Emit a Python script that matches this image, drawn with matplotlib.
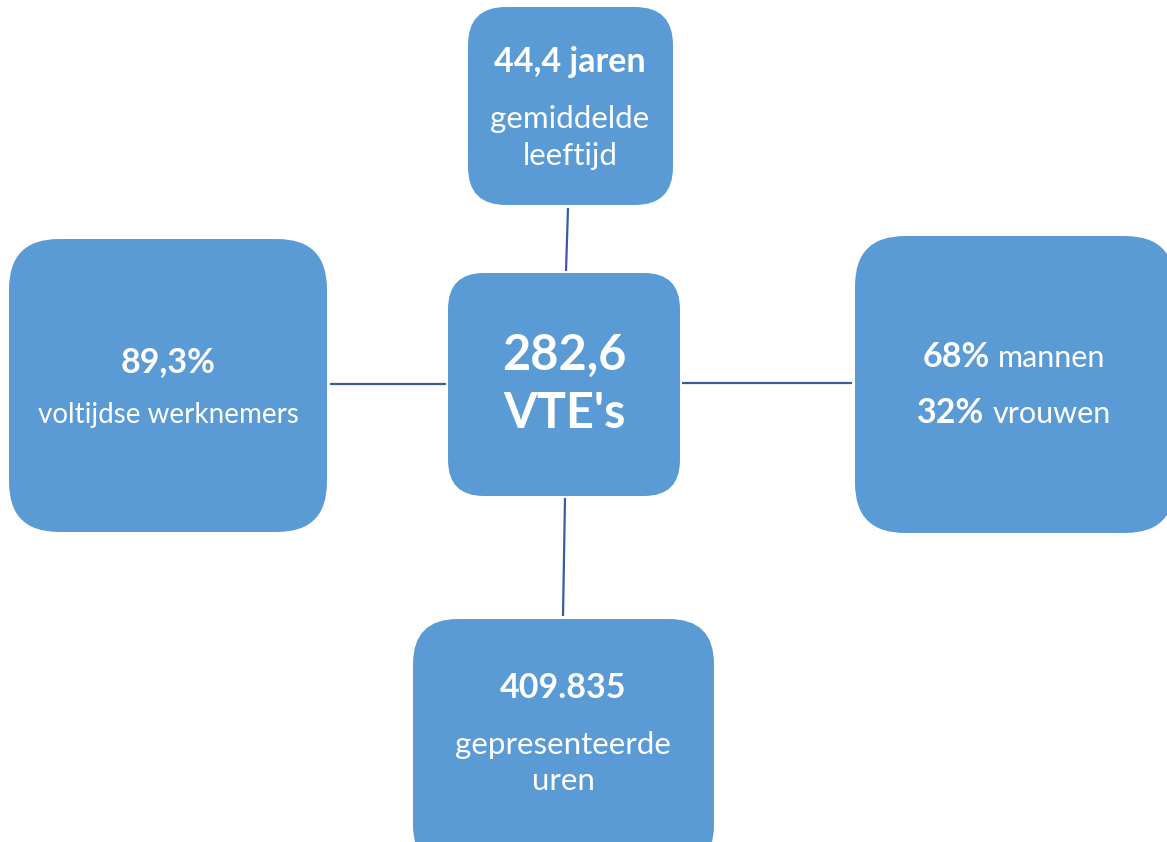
import matplotlib.pyplot as plt
from matplotlib.patches import FancyBboxPatch

plt.rcParams['font.family'] = ['Lato', 'DejaVu Sans']

# key figures shown in the diagram
center_value = "282,6"
center_unit = "VTE's"
age_value = "44,4 jaren"
age_label = ["gemiddelde", "leeftijd"]
fulltime_value = "89,3%"
fulltime_label = ["voltijdse werknemers"]
gender_pct = ["68%", "32%"]
gender_names = ["mannen", "vrouwen"]
hours_value = "409.835"
hours_label = ["gepresenteerde", "uren"]

W, H = 1167, 842
fig = plt.figure(figsize=(W / 100, H / 100), dpi=100)
ax = fig.add_axes([0, 0, 1, 1])
ax.set_xlim(0, W)
ax.set_ylim(H, 0)
ax.axis('off')

box_color = '#5B9BD5'
line_color = '#3A5BA0'

# box layout in pixels: x0, y0, x1, y1, corner radius
boxes = {
    'top': (468, 7, 673, 205, 38),
    'left': (9, 239, 327, 532, 50),
    'right': (855, 236, 1175, 533, 50),
    'center': (448, 273, 680, 496, 36),
    'bottom': (413, 619, 714, 870, 45),
}

for x0, y0, x1, y1, r in boxes.values():
    ax.add_patch(FancyBboxPatch((x0, y0), x1 - x0, y1 - y0,
                                boxstyle=f"round,pad=0,rounding_size={r}",
                                fc=box_color, ec='none'))

# connectors
connectors = [((568, 208), (566, 271)),
              ((330, 384), (446, 384)),
              ((682, 383), (852, 383)),
              ((565, 498), (563, 616))]
for (xa, ya), (xb, yb) in connectors:
    ax.plot([xa, xb], [ya, yb], color=line_color, lw=1.6, solid_capstyle='butt')


def put(x, y, s, size, bold=False):
    ax.text(x, y, s, fontsize=size, fontweight='bold' if bold else 'normal',
            color='white', ha='center', va='baseline')


head = 24.5
lab = 22.5
big = 35

# top box
put(570, 72, age_value, head, True)
put(570, 128, age_label[0], lab)
put(570, 165, age_label[1], lab)

# left box
put(168, 372, fulltime_value, head, True)
put(168, 423, fulltime_label[0], 20)

# center box
put(564, 370, center_value, big, True)
put(564, 428, center_unit, big, True)

# bottom box
put(563, 698, hours_value, head, True)
put(563, 754, hours_label[0], lab)
put(563, 790, hours_label[1], lab)

# right box: bold percentage followed by regular word, centred as one line
fig.canvas.draw()
rend = fig.canvas.get_renderer()
gap = 8
for pct, name, yb in zip(gender_pct, gender_names, [367, 423]):
    t1 = ax.text(0, yb, pct, fontsize=head, fontweight='bold', color='white',
                 ha='left', va='baseline')
    t2 = ax.text(0, yb, name, fontsize=22, color='white',
                 ha='left', va='baseline')
    w1 = t1.get_window_extent(rend).width
    w2 = t2.get_window_extent(rend).width
    start = 1014 - (w1 + gap + w2) / 2
    t1.set_x(start)
    t2.set_x(start + w1 + gap)

fig.savefig('out.png', dpi=100, facecolor='white')
